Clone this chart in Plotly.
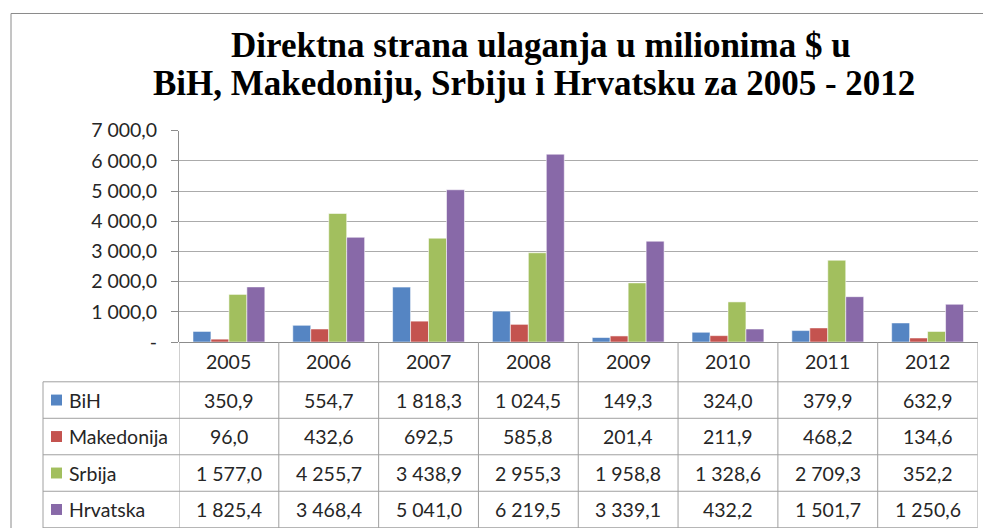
import plotly.graph_objects as go

# ---------------- data ----------------
years = ["2005", "2006", "2007", "2008", "2009", "2010", "2011", "2012"]
bih = [350.9, 554.7, 1818.3, 1024.5, 149.3, 324.0, 379.9, 632.9]
makedonija = [96.0, 432.6, 692.5, 585.8, 201.4, 211.9, 468.2, 134.6]
srbija = [1577.0, 4255.7, 3438.9, 2955.3, 1958.8, 1328.6, 2709.3, 352.2]
hrvatska = [1825.4, 3468.4, 5041.0, 6219.5, 3339.1, 432.2, 1501.7, 1250.6]
series_names = ["BiH", "Makedonija", "Srbija", "Hrvatska"]
y_ticks = [0, 1000, 2000, 3000, 4000, 5000, 6000, 7000]
title_lines = ["Direktna strana ulaganja u milionima $ u",
               "BiH, Makedoniju, Srbiju i Hrvatsku za 2005 - 2012"]

series_values = [bih, makedonija, srbija, hrvatska]
colors = ["#5585C3", "#C4534F", "#A2BF5E", "#8869A8"]

W, H = 983, 528
# observed render: paper spans screen rows 10..518
TOP_OFF, EFF_H = 10, 508
def px(x):
    return x / W
def py(y):
    return 1 - (y - TOP_OFF) / EFF_H

def fmt(v):
    if v == 0:
        return "-"
    s = f"{v:,.1f}"
    return s.replace(",", " ").replace(".", ",")

FONT = "Lato"
FS = 19.5
TXT = "#262626"
GRID = "#ababab"
LINE = "#a0a0a0"

fig = go.Figure()
for name, vals, c in zip(series_names, series_values, colors):
    fig.add_trace(go.Bar(x=years, y=vals, name=name, marker_color=c,
                         marker_line=dict(color="rgba(255,255,255,0.55)", width=1)))

# plot geometry (screen pixels)
X0, X1 = 179, 977.5
Y0, YT = 342, 129.3
HDR_H = 40
ROW_H = 36.7
TBL_LEFT = 43

fig.update_layout(
    width=W, height=H, margin=dict(l=0, r=0, t=0, b=0),
    paper_bgcolor="white", plot_bgcolor="white",
    barmode="group", bargap=0.28, bargroupgap=0,
    showlegend=False,
    font=dict(family=FONT, size=FS, color=TXT),
    xaxis=dict(type="category", domain=[px(X0), px(X1)], range=[-0.5, 7.5],
               showticklabels=False, showgrid=False, showline=False, zeroline=False,
               ticks=""),
    yaxis=dict(domain=[py(Y0), py(YT)], range=[0, 7000],
               tickvals=y_ticks, ticktext=[fmt(v) for v in y_ticks],
               showgrid=True, gridcolor=GRID, gridwidth=1,
               zeroline=True, zerolinecolor="#8c8c8c", zerolinewidth=1,
               showline=True, linecolor="#8c8c8c", linewidth=1,
               ticks="outside", ticklen=7, tickcolor="#8c8c8c",
               ticklabelstandoff=10,
               tickfont=dict(family=FONT, size=FS, color=TXT)),
)

shapes = []
annotations = []

# outer chart frame
shapes.append(dict(type="line", xref="paper", yref="paper",
                   x0=px(11), x1=px(990), y0=py(11.5), y1=py(11.5),
                   line=dict(color="#8a8a8a", width=1)))
shapes.append(dict(type="line", xref="paper", yref="paper",
                   x0=px(11), x1=px(11), y0=py(11.5), y1=py(545),
                   line=dict(color="#8a8a8a", width=1)))

# title
annotations.append(dict(text="<b>%s</b>" % title_lines[0], xref="paper", yref="paper",
                        x=px(541), y=py(44), xanchor="center", yanchor="middle",
                        showarrow=False,
                        font=dict(family="Liberation Serif", size=35, color="black")))
annotations.append(dict(text="<b>%s</b>" % title_lines[1], xref="paper", yref="paper",
                        x=px(534), y=py(82), xanchor="center", yanchor="middle",
                        showarrow=False,
                        font=dict(family="Liberation Serif", size=35, color="black")))

# data table
row_tops = [Y0 + HDR_H + i * ROW_H for i in range(len(series_names) + 1)]
for yt in row_tops:
    shapes.append(dict(type="line", xref="paper", yref="paper",
                       x0=px(TBL_LEFT), x1=px(X1), y0=py(yt), y1=py(yt),
                       line=dict(color=LINE, width=1)))
shapes.append(dict(type="line", xref="paper", yref="paper",
                   x0=px(TBL_LEFT), x1=px(TBL_LEFT), y0=py(row_tops[0]), y1=py(H + 20),
                   line=dict(color=LINE, width=1)))
for i in range(len(years) + 1):
    shapes.append(dict(type="line", xref="x", yref="paper",
                       x0=i - 0.5, x1=i - 0.5, y0=py(Y0), y1=py(H + 20),
                       line=dict(color=LINE, width=1)))

for i, yr in enumerate(years):
    annotations.append(dict(text=yr, xref="x", yref="paper", x=i,
                            y=py(Y0 + HDR_H / 2), xanchor="center", yanchor="middle",
                            showarrow=False, font=dict(family=FONT, size=FS, color=TXT)))

for r, (name, vals, c) in enumerate(zip(series_names, series_values, colors)):
    yc = row_tops[r] + ROW_H / 2
    shapes.append(dict(type="rect", xref="paper", yref="paper",
                       x0=px(51), x1=px(62), y0=py(yc - 5.5), y1=py(yc + 5.5),
                       fillcolor=c, line=dict(width=0)))
    annotations.append(dict(text=name, xref="paper", yref="paper", x=px(67),
                            y=py(yc), xanchor="left", yanchor="middle",
                            showarrow=False, font=dict(family=FONT, size=FS, color=TXT)))
    for i, v in enumerate(vals):
        annotations.append(dict(text=fmt(v), xref="x", yref="paper", x=i,
                                y=py(yc), xanchor="center", yanchor="middle",
                                showarrow=False, font=dict(family=FONT, size=FS, color=TXT)))

fig.update_layout(shapes=shapes, annotations=annotations)
fig.write_html("out.html")
